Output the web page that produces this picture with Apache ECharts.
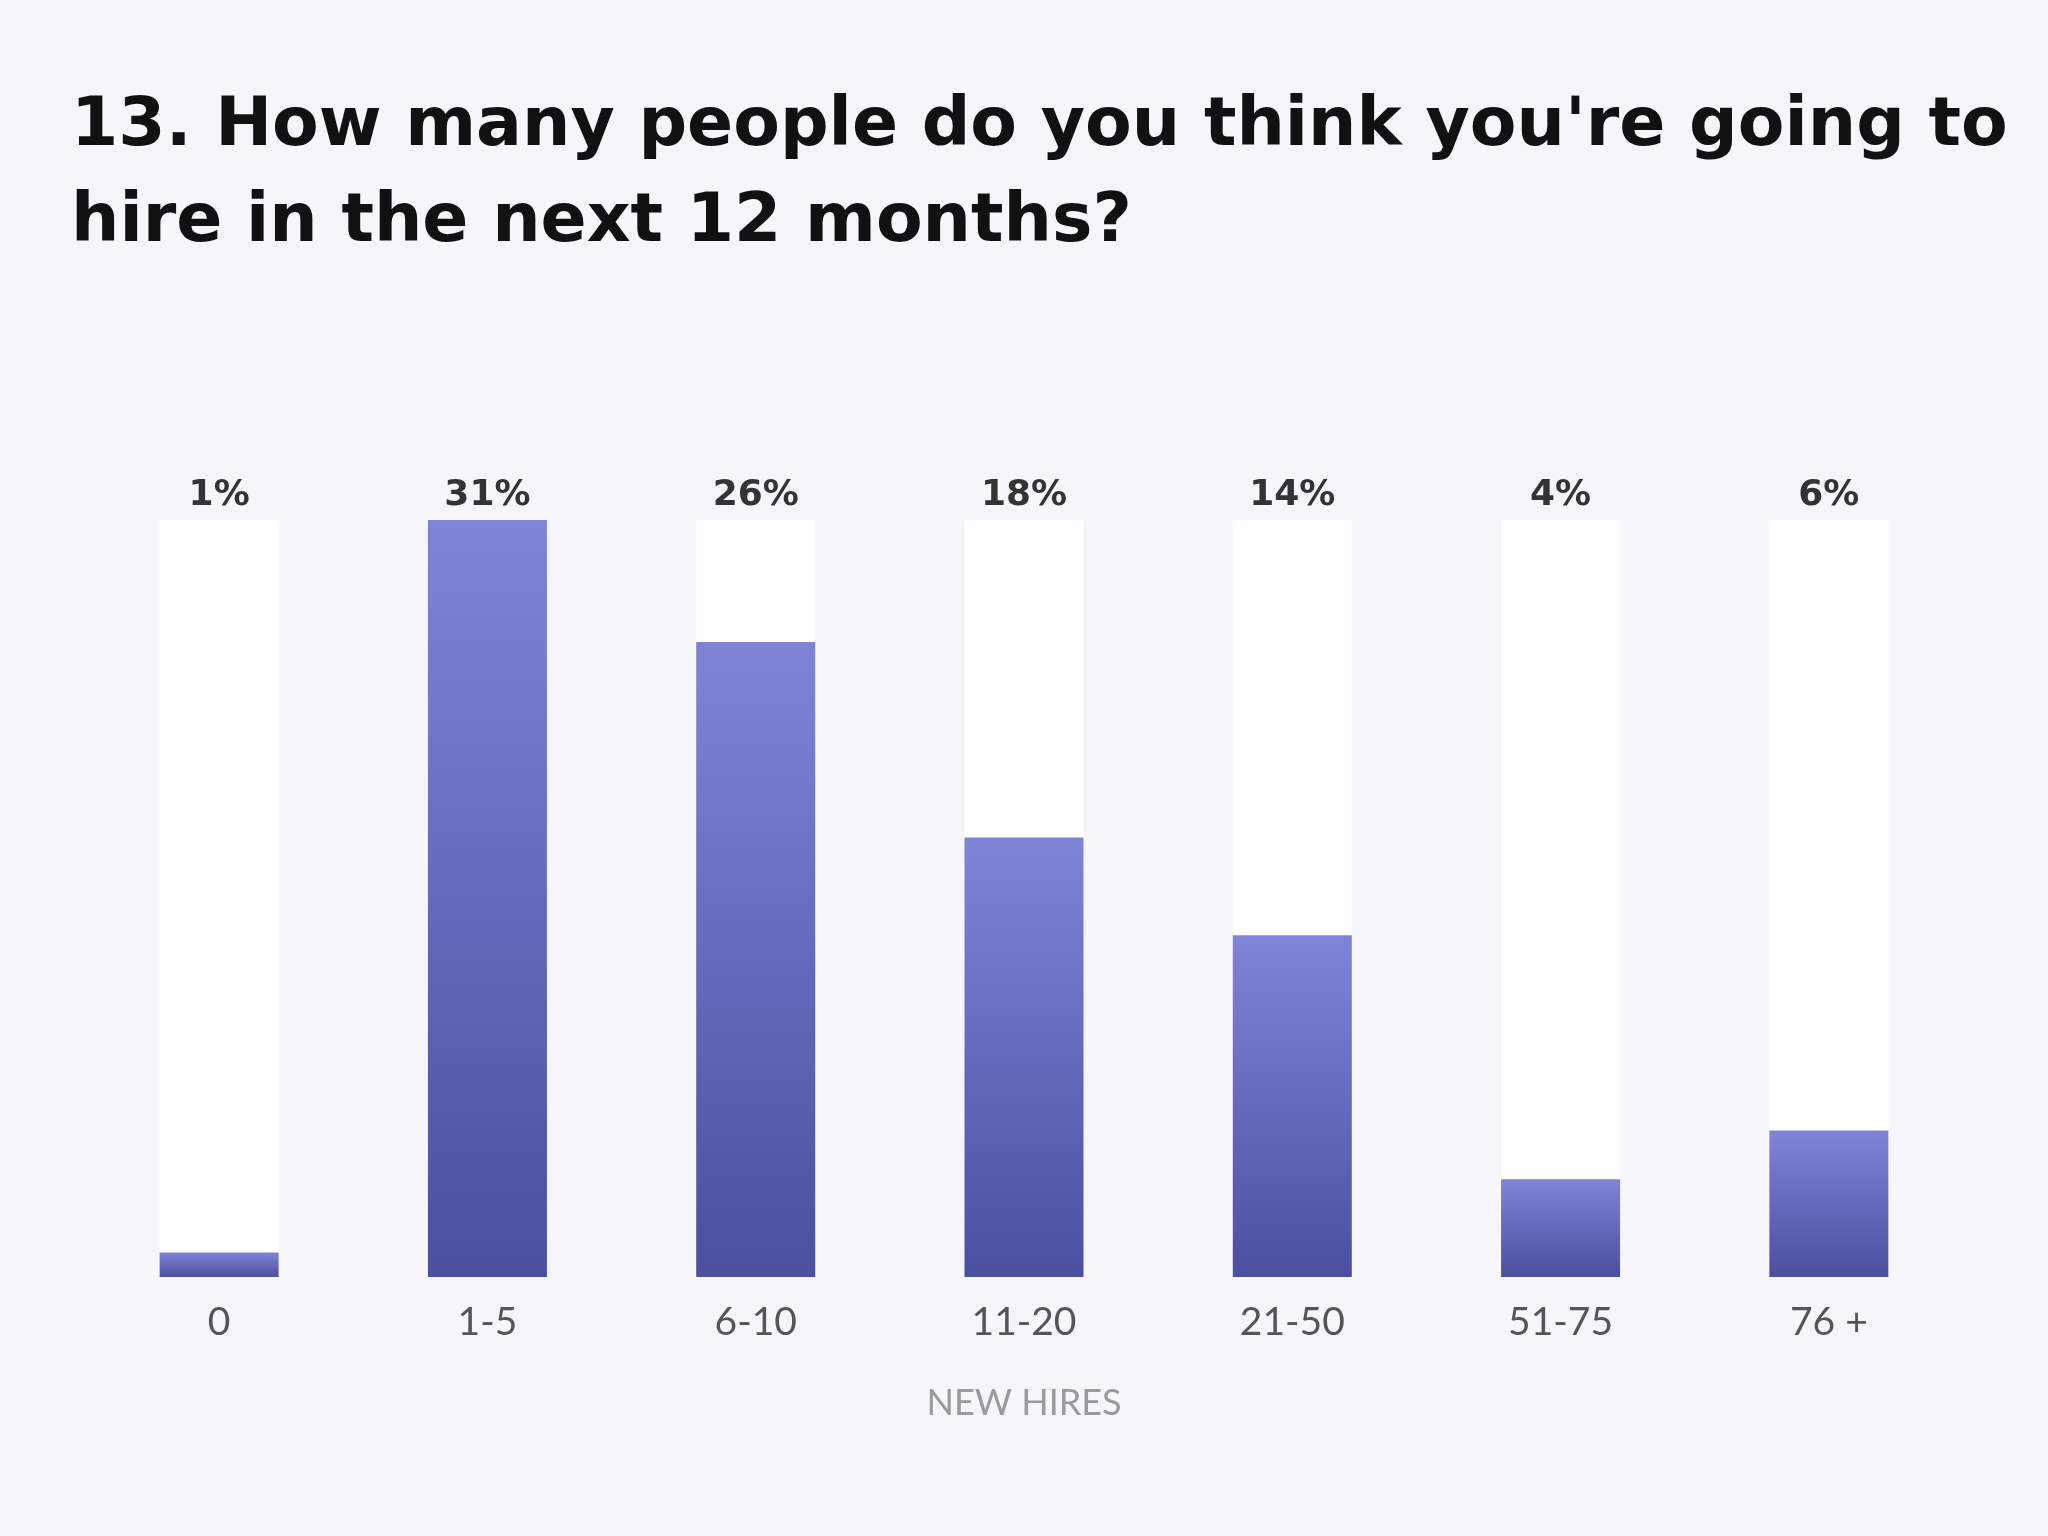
<!DOCTYPE html>
<html>
<head>
<meta charset="utf-8">
<script src="https://cdn.jsdelivr.net/npm/echarts@6/dist/echarts.min.js"></script>
<style>
html,body{margin:0;padding:0;background:#f6f5fa;}
#chart{width:2048px;height:1536px;}
</style>
</head>
<body>
<div id="chart"></div>
<script>
var categories = ['0', '1-5', '6-10', '11-20', '21-50', '51-75', '76 +'];
var values = [1, 31, 26, 18, 14, 4, 6];
var maxValue = 31;

var chart = echarts.init(document.getElementById('chart'));
var option = {
	backgroundColor: '#f6f5fa',
	title: {
		text: "13. How many people do you think you're going to\nhire in the next 12 months?",
		left: 66,
		top: 74,
		textStyle: {
			fontFamily: 'DejaVu Sans',
			fontWeight: 'bold',
			fontSize: 68,
			lineHeight: 96,
			color: '#111'
		}
	},
	grid: {left: 85, right: 85, top: 520, bottom: 259},
	xAxis: {
		type: 'category',
		data: categories,
		name: 'NEW HIRES',
		nameLocation: 'middle',
		nameGap: 108,
		nameTextStyle: {fontFamily: 'Lato', fontSize: 36, color: '#9a9a9a'},
		axisLine: {show: false},
		axisTick: {show: false},
		axisLabel: {fontFamily: 'Lato', fontSize: 39, color: '#555', margin: 26}
	},
	yAxis: {type: 'value', min: 0, max: maxValue, show: false},
	series: [
		{
			type: 'bar',
			barWidth: 119,
			barGap: '-100%',
			silent: true,
			itemStyle: {color: '#ffffff'},
			data: values.map(function(){ return maxValue; }),
			label: {
				show: true,
				position: 'top',
				distance: 6,
				formatter: function(p){ return values[p.dataIndex] + '%'; },
				fontFamily: 'DejaVu Sans',
				fontWeight: 'bold',
				fontSize: 36,
				color: '#333'
			}
		},
		{
			type: 'bar',
			barWidth: 119,
			data: values,
			itemStyle: {
				color: new echarts.graphic.LinearGradient(0, 0, 0, 1, [
					{offset: 0, color: '#7f84d7'},
					{offset: 1, color: '#4a4f9f'}
				])
			}
		}
	]
};
chart.setOption(option);
</script>
</body>
</html>
